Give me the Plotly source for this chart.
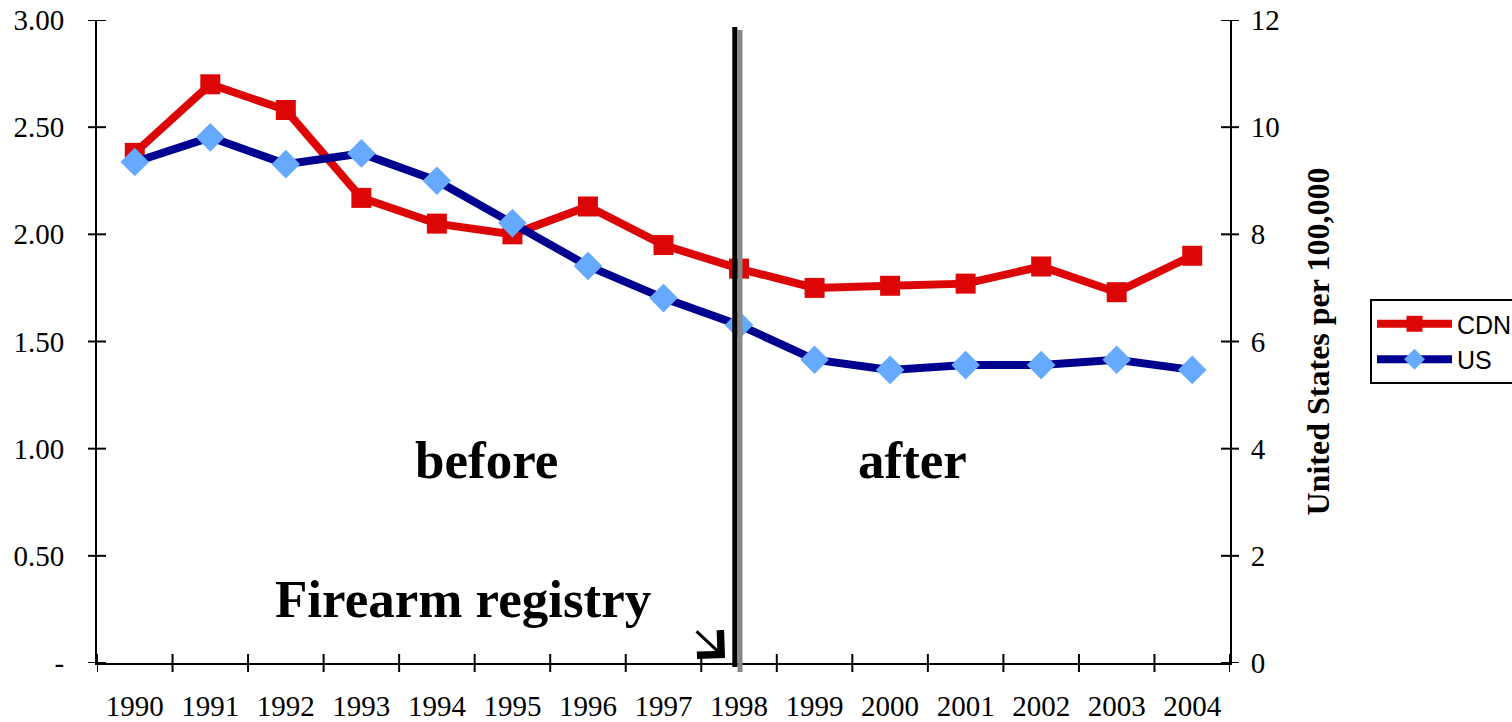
import plotly.graph_objects as go

years = [str(y) for y in range(1990, 2005)]
cdn = [2.38, 2.70, 2.58, 2.17, 2.05, 2.00, 2.13, 1.95, 1.84, 1.75, 1.76, 1.77, 1.85, 1.73, 1.90]
us = [9.35, 9.81, 9.31, 9.51, 9.00, 8.21, 7.41, 6.81, 6.31, 5.66, 5.47, 5.56, 5.56, 5.66, 5.47]
left_ticks = [0, 0.5, 1.0, 1.5, 2.0, 2.5, 3.0]
left_labels = ["-", "0.50", "1.00", "1.50", "2.00", "2.50", "3.00"]
right_ticks = [0, 2, 4, 6, 8, 10, 12]
right_labels = ["0", "2", "4", "6", "8", "10", "12"]
registry_year = "1998"

xpos = list(range(len(years)))
reg_idx = years.index(registry_year)

SERIF = "Liberation Serif"
SANS = "Liberation Sans"

fig = go.Figure()
fig.add_trace(go.Scatter(
    x=xpos, y=cdn, name="CDN", mode="lines+markers",
    line=dict(color="#DD0606", width=8),
    marker=dict(symbol="square", size=20, color="#DD0606"),
    yaxis="y",
))
fig.add_trace(go.Scatter(
    x=xpos, y=us, name="US", mode="lines+markers",
    line=dict(color="#000090", width=8),
    marker=dict(symbol="diamond", size=22, color="#66AAFF"),
    yaxis="y2",
))

W, H = 1512, 722
L, R, T, B = 97, 282, 20, 59
pw = W - L - R
ph = H - T - B

shapes = []
# crossing ticks on x axis at category boundaries
for i in range(len(years) + 1):
    xb = i - 0.5
    shapes.append(dict(type="line", xref="x", yref="paper", x0=xb, x1=xb,
                       y0=-9 / ph, y1=9 / ph, line=dict(color="black", width=2)))
# crossing ticks on left and right y axes
for v in left_ticks:
    shapes.append(dict(type="line", xref="paper", yref="y", x0=-9 / pw, x1=9 / pw,
                       y0=v, y1=v, line=dict(color="black", width=2)))
for v in right_ticks:
    shapes.append(dict(type="line", xref="paper", yref="y2", x0=1 - 9 / pw, x1=1 + 9 / pw,
                       y0=v, y1=v, line=dict(color="black", width=2)))
# registry vertical line (black with grey edge)
shapes.append(dict(type="line", xref="x", yref="paper", x0=reg_idx + 0.013, x1=reg_idx + 0.013,
                   y0=-9 / ph, y1=1 - 10 / ph, line=dict(color="#888888", width=5)))
shapes.append(dict(type="line", xref="x", yref="paper", x0=reg_idx - 0.056, x1=reg_idx - 0.056,
                   y0=-4 / ph, y1=1 - 7 / ph, line=dict(color="black", width=5)))

annotations = [
    dict(text="<b>before</b>", x=4.66, y=0.947, xref="x", yref="y", showarrow=False,
         font=dict(family=SERIF, size=53, color="black")),
    dict(text="<b>after</b>", x=10.29, y=0.947, xref="x", yref="y", showarrow=False,
         font=dict(family=SERIF, size=53, color="black")),
    dict(text="<b>Firearm registry</b>", x=4.35, y=0.30, xref="x", yref="y", showarrow=False,
         font=dict(family=SERIF, size=53, color="black")),
    dict(text="", x=reg_idx - 0.185, y=0.023, xref="x", yref="y", showarrow=True,
         ax=-30, ay=-28, arrowhead=4, arrowsize=2.2, arrowwidth=3, arrowcolor="black"),
]

fig.update_layout(
    width=W, height=H,
    margin=dict(l=L, r=R, t=T, b=B, autoexpand=False),
    plot_bgcolor="white", paper_bgcolor="white",
    showlegend=True,
    legend=dict(x=(1370 - L) / pw, y=(H - B - 299) / ph, xanchor="left", yanchor="top",
                bordercolor="black", borderwidth=2, bgcolor="white",
                font=dict(family=SANS, size=25, color="black"),
                tracegroupgap=0, itemwidth=75),
    xaxis=dict(range=[-0.5, len(years) - 0.5], tickvals=xpos, ticktext=years,
               ticks="", showgrid=False, zeroline=False, showline=True,
               linecolor="black", linewidth=2, fixedrange=True,
               tickfont=dict(family=SERIF, size=29, color="black"),
               ticklabelstandoff=16),
    yaxis=dict(range=[0, 3], tickvals=left_ticks, ticktext=left_labels,
               ticks="", showgrid=False, zeroline=False, showline=True,
               linecolor="black", linewidth=2,
               tickfont=dict(family=SERIF, size=29, color="black"),
               ticklabelstandoff=25),
    yaxis2=dict(range=[0, 12], tickvals=right_ticks, ticktext=right_labels,
                overlaying="y", side="right",
                ticks="", showgrid=False, zeroline=False, showline=True,
                linecolor="black", linewidth=2,
                tickfont=dict(family=SERIF, size=29, color="black"),
                ticklabelstandoff=13,
                title=dict(text="<b>United States per 100,000</b>",
                           font=dict(family=SERIF, size=32, color="black"),
                           standoff=28)),
    shapes=shapes,
    annotations=annotations,
)

fig.write_html("out.html", config={"displayModeBar": False},
               post_script="document.body.style.margin='0';document.body.style.overflow='hidden';")
